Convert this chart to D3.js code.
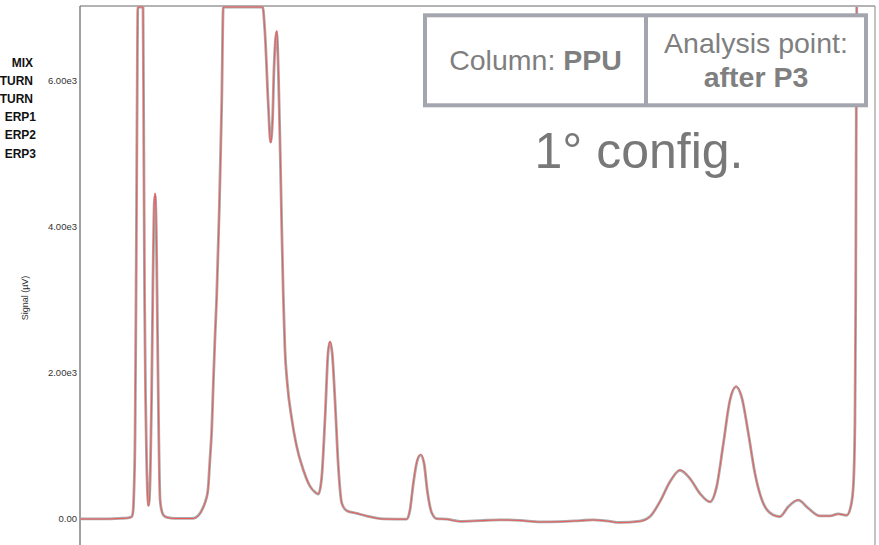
<!DOCTYPE html>
<html>
<head>
<meta charset="utf-8">
<script src="https://cdn.jsdelivr.net/npm/d3@7"></script>
<style>
  html, body { margin: 0; padding: 0; background: #fff; }
  svg { display: block; }
</style>
</head>
<body>
<svg id="chart" width="879" height="545"></svg>
<script>
// ---- data (retention time in min, signal in µV) ----
const times = [0, 1.01, 2.01, 2.42, 2.60, 2.67, 2.72, 2.77, 2.82, 2.87,
  2.91, 3.17, 3.21, 3.25, 3.30, 3.35, 3.40, 3.44, 3.49, 3.54,
  3.60, 3.67, 3.74, 3.78, 3.84, 3.90, 3.96, 4.03, 4.10, 4.19,
  4.38, 4.78, 5.69, 5.94, 6.19, 6.34, 6.44, 6.54, 6.63, 6.71,
  6.79, 6.88, 7.01, 7.13, 7.21, 9.19, 9.31, 9.47, 9.59, 9.69,
  9.76, 9.90, 9.98, 10.06, 10.15, 10.23, 10.31, 10.43, 10.65, 10.90,
  11.24, 11.57, 11.82, 11.99, 12.16, 12.33, 12.49, 12.58, 12.69, 12.83,
  13.00, 13.17, 13.42, 13.92, 14.43, 15.26, 16.44, 16.60, 16.77, 16.97,
  17.14, 17.31, 17.47, 17.70, 17.95, 18.45, 19.12, 20.13, 21.13, 22.14,
  23.14, 24.15, 25.16, 25.81, 26.50, 27.17, 28.18, 28.68, 29.18, 29.69,
  30.19, 30.69, 31.19, 31.70, 32.03, 32.37, 32.70, 33.01, 33.29, 33.63,
  33.96, 34.38, 34.88, 35.22, 35.64, 36.14, 36.64, 37.23, 37.74, 38.15,
  38.58, 38.78, 38.91, 38.99, 39.03, 39.06, 39.08];

const redValues = [-14, -14, -7, 0, 14, 82, 384, 1069, 2987, 5453,
  7000, 7000, 5042, 2987, 1617, 795, 315, 164, 247, 658,
  1617, 3261, 4357, 4453, 3946, 2576, 1206, 247, 110, 41,
  7, -7, -7, 27, 137, 247, 384, 795, 1206, 1850,
  2439, 3041, 4233, 5665, 7000, 7000, 6617, 5665, 5138, 5453,
  6138, 6676, 6138, 5193, 4000, 3041, 2329, 1850, 1370, 986,
  658, 438, 356, 329, 562, 1384, 2302, 2425, 2261, 1617,
  699, 206, 101, 64, 27, -14, -18, 110, 480, 795,
  872, 754, 384, 69, -10, -18, -48, -37, -27, -34,
  -55, -51, -37, -27, -41, -64, -45, 18, 223, 499,
  658, 544, 338, 223, 429, 1023, 1617, 1808, 1662, 1160,
  612, 201, 41, 18, 155, 247, 133, 27, 27, 55,
  37, 155, 429, 1251, 2987, 5727, 7000];

const grayValues = [-12, -12, -5, 2, 18, 95, 410, 1120, 3050, 5500,
  7000, 7000, 5100, 3020, 1640, 810, 320, 170, 250, 650,
  1600, 3240, 4330, 4420, 3930, 2560, 1190, 250, 112, 43,
  9, -5, -5, 30, 142, 255, 392, 810, 1220, 1870,
  2460, 3060, 4250, 5680, 7000, 7000, 6630, 5680, 5150, 5470,
  6150, 6660, 6120, 5180, 3990, 3030, 2320, 1845, 1365, 982,
  655, 436, 354, 327, 555, 1370, 2290, 2405, 2250, 1610,
  695, 204, 100, 63, 26, -12, -16, 105, 470, 785,
  860, 748, 380, 68, -9, -16, -45, -35, -25, -32,
  -52, -49, -35, -25, -39, -61, -43, 20, 225, 500,
  652, 540, 336, 222, 427, 1018, 1610, 1796, 1655, 1155,
  610, 200, 42, 20, 156, 245, 134, 29, 29, 56,
  38, 158, 440, 1300, 3050, 5780, 7000];

const yTickValues = [0, 2000, 4000, 6000];
const yTickLabels = ["0.00", "2.00e3", "4.00e3", "6.00e3"];
const legendLabels = ["MIX", "TURN", "TURN", "ERP1", "ERP2", "ERP3"];
const yTitle = "Signal (µV)";
const columnLabel = "Column: ";
const columnName = "PPU";
const pointLabel = "Analysis point:";
const pointName = "after P3";
const configLabel = "1° config.";

// ---- layout ----
const svg = d3.select("#chart");
const plot = { left: 80, right: 875, top: 6, bottom: 560 };

const x = d3.scaleLinear().domain([0, 40]).range([plot.left, plot.right]);
const y = d3.scaleLinear().domain([0, 6000]).range([518, 80]);

svg.append("defs").append("clipPath").attr("id", "clip")
  .append("rect")
  .attr("x", plot.left).attr("y", plot.top)
  .attr("width", plot.right - plot.left).attr("height", plot.bottom - plot.top);

// frame
svg.append("line").attr("x1", plot.left).attr("x2", plot.right)
  .attr("y1", plot.top).attr("y2", plot.top)
  .attr("stroke", "#9a9a9a").attr("stroke-width", 1.5);
svg.append("line").attr("x1", plot.right).attr("x2", plot.right)
  .attr("y1", plot.top).attr("y2", plot.bottom)
  .attr("stroke", "#9a9a9a").attr("stroke-width", 1.2);

// y axis
const yAxis = d3.axisLeft(y)
  .tickValues(yTickValues)
  .tickSize(0)
  .tickPadding(3)
  .tickFormat((d, i) => yTickLabels[i]);
const gy = svg.append("g").attr("transform", `translate(${plot.left},0)`).call(yAxis);
gy.select(".domain").remove();
gy.selectAll("text")
  .attr("font-family", "Liberation Sans, Arial, sans-serif")
  .attr("font-size", 9.5)
  .attr("fill", "#333");
svg.append("line").attr("x1", plot.left).attr("x2", plot.left)
  .attr("y1", plot.top).attr("y2", plot.bottom)
  .attr("stroke", "#808080").attr("stroke-width", 1.5);

svg.append("text")
  .attr("transform", "translate(28,298) rotate(-90)")
  .attr("text-anchor", "middle")
  .attr("font-family", "Liberation Sans, Arial, sans-serif")
  .attr("font-size", 9)
  .attr("fill", "#333")
  .text(yTitle);

// traces
const line = d3.line().curve(d3.curveMonotoneX)
  .x(d => x(d[0])).y(d => y(d[1]));
const gTraces = svg.append("g").attr("clip-path", "url(#clip)");
gTraces.append("path")
  .datum(times.map((t, i) => [t, grayValues[i]]))
  .attr("d", line)
  .attr("fill", "none")
  .attr("stroke", "#aaaaaa")
  .attr("stroke-width", 2.8)
  .attr("stroke-linejoin", "round");
gTraces.append("path")
  .datum(times.map((t, i) => [t, redValues[i]]))
  .attr("d", line)
  .attr("fill", "none")
  .attr("stroke", "#f05858")
  .attr("stroke-width", 1)
  .attr("stroke-linejoin", "round");

// legend (clipped at left edge)
svg.append("g").selectAll("text")
  .data(legendLabels)
  .join("text")
  .attr("x", (d, i) => i < 3 ? 33 : 36)
  .attr("y", (d, i) => 66.5 + i * 18.2)
  .attr("text-anchor", "end")
  .attr("font-family", "Liberation Sans, Arial, sans-serif")
  .attr("font-weight", "bold")
  .attr("font-size", 12)
  .attr("fill", "#111")
  .text(d => d);

// info box
const box = { x: 425, y: 15.3, w: 441, h: 90, split: 646 };
const gBox = svg.append("g");
gBox.append("rect")
  .attr("x", box.x).attr("y", box.y).attr("width", box.w).attr("height", box.h)
  .attr("fill", "white").attr("stroke", "#a3a6ae").attr("stroke-width", 4);
gBox.append("line")
  .attr("x1", box.split).attr("x2", box.split)
  .attr("y1", box.y).attr("y2", box.y + box.h)
  .attr("stroke", "#a3a6ae").attr("stroke-width", 4);

const font = "Liberation Sans, Arial, Helvetica, sans-serif";
const t1 = gBox.append("text")
  .attr("x", (box.x + box.split) / 2).attr("y", 70)
  .attr("text-anchor", "middle")
  .attr("font-family", font).attr("font-size", 28.5).attr("fill", "#7f7f7f");
t1.append("tspan").text(columnLabel);
t1.append("tspan").attr("font-weight", "bold").text(columnName);

gBox.append("text")
  .attr("x", (box.split + box.x + box.w) / 2).attr("y", 53)
  .attr("text-anchor", "middle")
  .attr("font-family", font).attr("font-size", 28.5).attr("fill", "#7f7f7f")
  .text(pointLabel);
gBox.append("text")
  .attr("x", (box.split + box.x + box.w) / 2).attr("y", 87)
  .attr("text-anchor", "middle")
  .attr("font-family", font).attr("font-size", 28.5).attr("font-weight", "bold").attr("fill", "#7f7f7f")
  .text(pointName);

svg.append("text")
  .attr("x", 639).attr("y", 168)
  .attr("text-anchor", "middle")
  .attr("font-family", font).attr("font-size", 50).attr("fill", "#787878")
  .text(configLabel);
</script>
</body>
</html>
